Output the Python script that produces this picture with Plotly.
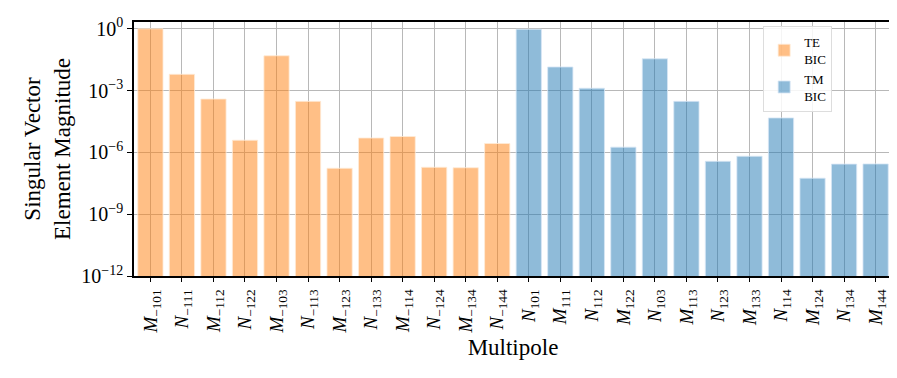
import plotly.graph_objects as go

# TE BIC multipoles and their singular-vector magnitudes
te_labels = ["M,−101", "N,−111", "M,−112", "N,−122", "M,−103", "N,−113",
             "M,−123", "N,−133", "M,−114", "N,−124", "M,−134", "N,−144"]
te_values = [1.0, 6.2e-3, 3.9e-4, 3.9e-6, 4.9e-2, 3.0e-4,
             1.7e-7, 5.0e-6, 5.9e-6, 1.9e-7, 1.8e-7, 2.7e-6]

# TM BIC multipoles
tm_labels = ["N,101", "M,111", "N,112", "M,122", "N,103", "M,113",
             "N,123", "M,133", "N,114", "M,124", "N,134", "M,144"]
tm_values = [0.95, 1.4e-2, 1.3e-3, 1.8e-6, 3.5e-2, 3.0e-4,
             3.7e-7, 6.5e-7, 4.7e-5, 5.6e-8, 2.7e-7, 2.75e-7]

y_ticks = [1e-12, 1e-9, 1e-6, 1e-3, 1e0]
y_ticktext = ["10<sup>−12</sup>", "10<sup>−9</sup>", "10<sup>−6</sup>",
              "10<sup>−3</sup>", "10<sup>0</sup>"]

FONT = "Liberation Serif"


def fmt(lbl):
    letter, sub = lbl.split(",")
    return f"<i>{letter}</i><sub>{sub}</sub>"


te_x = [fmt(l) for l in te_labels]
tm_x = [fmt(l) for l in tm_labels]

fig = go.Figure()
fig.add_trace(go.Bar(x=te_x, y=te_values, name="TE<br>BIC", width=0.8,
                     marker=dict(color="rgba(255,127,14,0.5)",
                                 line=dict(color="rgba(255,235,215,0.8)", width=1))))
fig.add_trace(go.Bar(x=tm_x, y=tm_values, name="TM<br>BIC", width=0.8,
                     marker=dict(color="rgba(31,119,180,0.5)",
                                 line=dict(color="rgba(215,230,245,0.8)", width=1))))

fig.update_layout(
    width=897, height=378, barmode="overlay",
    plot_bgcolor="white", paper_bgcolor="white",
    margin=dict(l=126, r=13, t=14, b=110),
    font=dict(family=FONT, color="black"),
    legend=dict(x=0.83, y=0.985, xanchor="left", yanchor="top",
                bgcolor="rgba(255,255,255,0.85)", bordercolor="#dddddd",
                borderwidth=1, font=dict(size=13, family=FONT),
                tracegroupgap=0, itemwidth=30),
    xaxis=dict(categoryorder="array", categoryarray=te_x + tm_x,
               range=[-0.52, 23.52], tickangle=-90, automargin=False,
               tickfont=dict(size=19, family=FONT),
               showgrid=True, gridcolor="#b8b8b8", gridwidth=1,
               ticks="outside", ticklen=4, tickcolor="black",
               showline=True, mirror=True, linecolor="black", linewidth=1.5,
               title=dict(text="Multipole", font=dict(size=23, family=FONT),
                          standoff=6)),
    yaxis=dict(type="log", range=[-12, 0.33], automargin=False,
               tickvals=y_ticks, ticktext=y_ticktext,
               tickfont=dict(size=20, family=FONT),
               showgrid=True, gridcolor="#b8b8b8", gridwidth=1,
               ticks="outside", ticklen=5, tickcolor="black",
               showline=True, mirror=True, linecolor="black", linewidth=1.5,
               zeroline=False,
               title=dict(text="Singular Vector<br>Element Magnitude",
                          font=dict(size=23, family=FONT), standoff=4)),
)

fig.write_html("out.html")
